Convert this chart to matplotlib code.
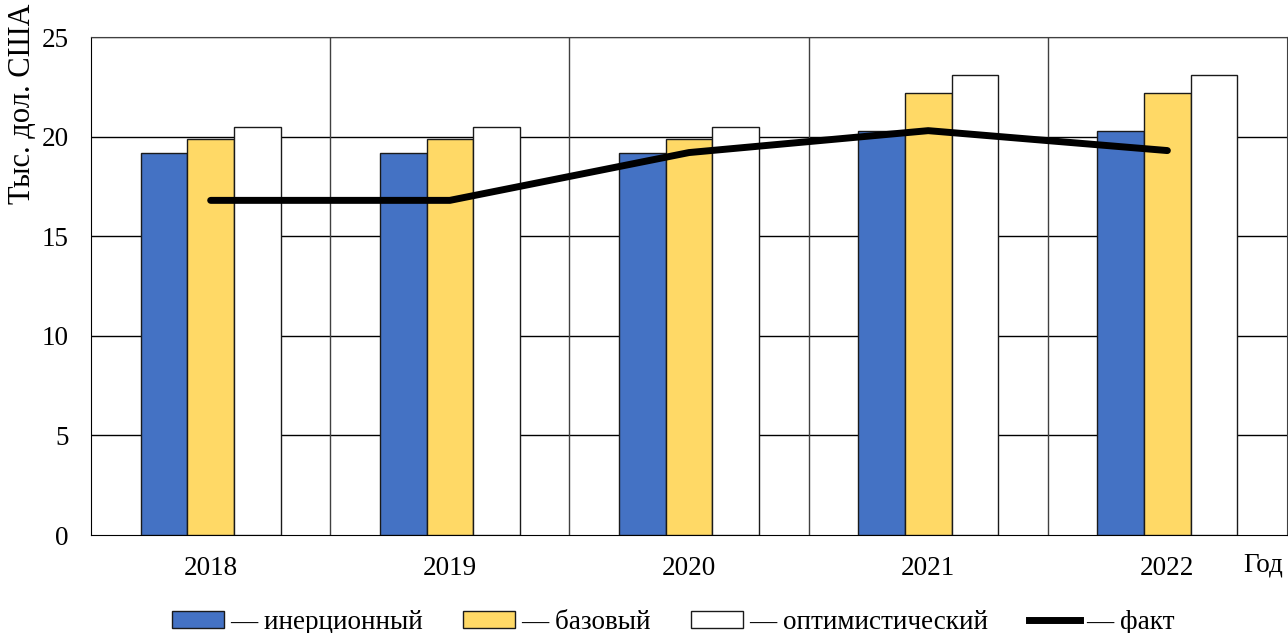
import numpy as np
import matplotlib.pyplot as plt
from matplotlib.lines import Line2D
from matplotlib.patches import Patch

plt.rcParams['font.family'] = ['Liberation Serif', 'DejaVu Serif']

years = ['2018', '2019', '2020', '2021', '2022']
inertial = [19.2, 19.2, 19.2, 20.3, 20.3]
basic = [19.9, 19.9, 19.9, 22.2, 22.2]
optimistic = [20.5, 20.5, 20.5, 23.1, 23.1]
fact = [16.8, 16.8, 19.2, 20.3, 19.3]

labels = ['— инерционный', '— базовый', '— оптимистический', '— факт']

fig = plt.figure(figsize=(12.88, 6.33), dpi=100)
ax = fig.add_axes([0.0707, 0.1548, 0.9285, 0.7867])

x = np.arange(len(years))
w = 0.195
ax.bar(x - w, inertial, w, color='#4472C4', edgecolor='#1a1a1a', linewidth=1, zorder=3)
ax.bar(x, basic, w, color='#FFD966', edgecolor='#1a1a1a', linewidth=1, zorder=3)
ax.bar(x + w, optimistic, w, color='white', edgecolor='#1a1a1a', linewidth=1, zorder=3)
ax.plot(x, fact, color='black', linewidth=5, solid_capstyle='round', zorder=4)

ax.set_xlim(-0.5, len(years) - 0.5)
ax.set_ylim(0, 25)
ax.set_yticks(range(0, 26, 5))
ax.set_xticks(x)
ax.set_xticklabels(years)
ax.tick_params(axis='both', length=0, labelsize=19.5)
ax.tick_params(axis='y', pad=16)
ax.tick_params(axis='x', pad=15)

for yv in range(5, 26, 5):
    ax.axhline(yv, color='black', linewidth=1, zorder=1)
for xv in np.arange(0.5, len(years) - 0.5, 1):
    ax.axvline(xv, color='#404040', linewidth=1, zorder=1)

for s in ['top', 'right']:
    ax.spines[s].set_color('#404040')
ax.spines['left'].set_color('black')
ax.spines['bottom'].set_color('black')

fig.text(0.006, 0.995, 'Тыс. дол. США', rotation=90, fontsize=22, ha='left', va='top')
fig.text(0.981, 0.107, 'Год', fontsize=19.5, ha='center', va='center')

handles = [Patch(facecolor='#4472C4', edgecolor='#1a1a1a'),
           Patch(facecolor='#FFD966', edgecolor='#1a1a1a'),
           Patch(facecolor='white', edgecolor='#1a1a1a'),
           Line2D([0], [0], color='black', linewidth=5)]
fig.legend(handles, labels, loc='center', bbox_to_anchor=(0.523, 0.017), ncol=4,
           frameon=False, fontsize=19.5, handlelength=1.9, handleheight=0.6,
           handletextpad=0.23, columnspacing=1.5, borderpad=0)

fig.savefig('out.png', dpi=100)
